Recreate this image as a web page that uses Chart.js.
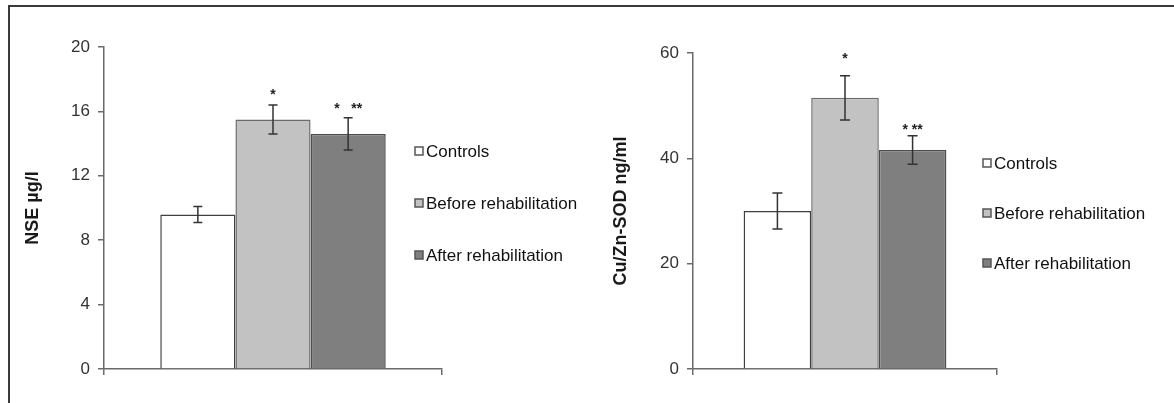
<!DOCTYPE html>
<html>
<head>
<meta charset="utf-8">
<script src="https://cdn.jsdelivr.net/npm/chart.js@4/dist/chart.umd.min.js"></script>
<style>
  html, body { margin: 0; padding: 0; background: #fff; }
  #wrap { position: relative; width: 1174px; height: 403px; overflow: hidden; }
  #frame { position: absolute; left: 8px; top: 5px; width: 1200px; height: 420px;
           border-top: 2px solid #3a3a3a; border-left: 2px solid #3a3a3a; }
  #nseBox { position: absolute; left: 0; top: 0; width: 590px; height: 403px; }
  #sodBox { position: absolute; left: 590px; top: 0; width: 584px; height: 403px; }
</style>
</head>
<body>
<div id="wrap">
  <div id="frame"></div>
  <div id="nseBox"><canvas id="nseChart" width="590" height="403"></canvas></div>
  <div id="sodBox"><canvas id="sodChart" width="584" height="403"></canvas></div>
</div>
<script>
// --- Daten ---
const groups = ['Controls', 'Before rehabilitation', 'After rehabilitation'];

const nseMeans = [9.6, 15.5, 14.6];
const nseErrors = [0.5, 0.9, 1.0];
const nseStars = ['', '*', '*   **'];
const nseTicks = [0, 4, 8, 12, 16, 20];

const sodMeans = [30.0, 51.5, 41.6];
const sodErrors = [3.4, 4.2, 2.7];
const sodStars = ['', '*', '* **'];
const sodTicks = [0, 20, 40, 60];

// --- Stil ---
const fills = ['#ffffff', '#c2c2c2', '#7f7f7f'];
const borders = ['#404040', '#6c6c6c', '#4c4c4c'];
const axisColor = '#6a6a6a';
const fontFamily = '"Liberation Sans", Arial, sans-serif';

// Fehlerbalken + Sternchen
const errorBarPlugin = {
    id: 'errBars',
    afterDatasetsDraw(chart, args, opts) {
        const ctx = chart.ctx;
        const y = chart.scales.y;
        ctx.save();
        ctx.strokeStyle = '#333';
        ctx.lineWidth = 1.5;
        chart.data.datasets.forEach((ds, i) => {
            const bar = chart.getDatasetMeta(i).data[0];
            const v = ds.data[0];
            const e = opts.errors[i];
            const top = y.getPixelForValue(v + e);
            const bot = y.getPixelForValue(v - e);
            const cap = opts.capWidth / 2;
            ctx.beginPath();
            ctx.moveTo(bar.x, top); ctx.lineTo(bar.x, bot);
            ctx.moveTo(bar.x - cap, top); ctx.lineTo(bar.x + cap, top);
            ctx.moveTo(bar.x - cap, bot); ctx.lineTo(bar.x + cap, bot);
            ctx.stroke();
            if (opts.stars[i]) {
                ctx.fillStyle = '#222';
                ctx.font = 'bold 14px ' + fontFamily;
                ctx.textAlign = 'center';
                ctx.textBaseline = 'middle';
                ctx.fillText(opts.stars[i], bar.x, top - opts.starGap[i]);
            }
        });
        ctx.restore();
    }
};

// Legende rechts neben den Balken (ueberlappt den Plotbereich wie im Original)
const sideLegendPlugin = {
    id: 'sideLegend',
    afterDraw(chart, args, opts) {
        const ctx = chart.ctx;
        ctx.save();
        ctx.font = '17px ' + fontFamily;
        ctx.textBaseline = 'middle';
        ctx.textAlign = 'left';
        chart.data.datasets.forEach((ds, i) => {
            const cy = opts.y + i * opts.step;
            ctx.fillStyle = ds.backgroundColor;
            ctx.strokeStyle = '#555';
            ctx.lineWidth = 1.5;
            ctx.fillRect(opts.x, cy - 4, 8, 8);
            ctx.strokeRect(opts.x, cy - 4, 8, 8);
            ctx.fillStyle = '#111';
            ctx.fillText(ds.label, opts.x + 11, cy + 1);
        });
        ctx.restore();
    }
};

function makeChart(canvasId, means, errors, stars, ticks, title, lay) {
    const ctx = document.getElementById(canvasId).getContext('2d');
    return new Chart(ctx, {
        type: 'bar',
        data: {
            labels: [''],
            datasets: groups.map((g, i) => ({
                label: g,
                data: [means[i]],
                backgroundColor: fills[i],
                borderColor: borders[i],
                borderWidth: 1.5,
                categoryPercentage: 0.667,
                barPercentage: 1
            }))
        },
        options: {
            responsive: false,
            animation: false,
            layout: { padding: { left: 0, right: lay.right, top: lay.top, bottom: 0 } },
            plugins: {
                legend: { display: false },
                tooltip: { enabled: false },
                errBars: { errors: errors, stars: stars, capWidth: lay.cap, starGap: lay.starGap },
                sideLegend: { x: lay.legX, y: lay.legY, step: lay.legStep }
            },
            scales: {
                x: {
                    offset: true,
                    ticks: { display: false },
                    grid: { drawOnChartArea: false, tickLength: 6, color: axisColor, lineWidth: 1.5, offset: true },
                    border: { color: axisColor, width: 1.5 },
                    afterFit: (s) => { s.height = 403 - lay.bottom; }
                },
                y: {
                    min: ticks[0],
                    max: ticks[ticks.length - 1],
                    afterBuildTicks: (s) => { s.ticks = ticks.map(v => ({ value: v })); },
                    ticks: { padding: 8, color: '#333', font: { family: fontFamily, size: 17 } },
                    grid: { drawOnChartArea: false, tickLength: 6, color: axisColor, lineWidth: 1.5 },
                    border: { color: axisColor, width: 1.5 },
                    title: {
                        display: true, text: title, color: '#1a1a1a',
                        font: { family: fontFamily, size: 18, weight: 'bold' },
                        padding: { top: lay.titleTop, bottom: 0 }
                    },
                    afterFit: (s) => { s.width = lay.left; }
                }
            }
        },
        plugins: [errorBarPlugin, sideLegendPlugin]
    });
}

makeChart('nseChart', nseMeans, nseErrors, nseStars, nseTicks, 'NSE µg/l', {
    left: 104, right: 590 - 442, top: 47, bottom: 369,
    titleTop: 22, cap: 9, starGap: [0, 10, 9],
    legX: 415, legY: 151, legStep: 52
});

makeChart('sodChart', sodMeans, sodErrors, sodStars, sodTicks, 'Cu/Zn-SOD ng/ml', {
    left: 103, right: 584 - 407, top: 53, bottom: 369,
    titleTop: 20, cap: 10, starGap: [0, 17, 6],
    legX: 393, legY: 163, legStep: 50
});
</script>
</body>
</html>
